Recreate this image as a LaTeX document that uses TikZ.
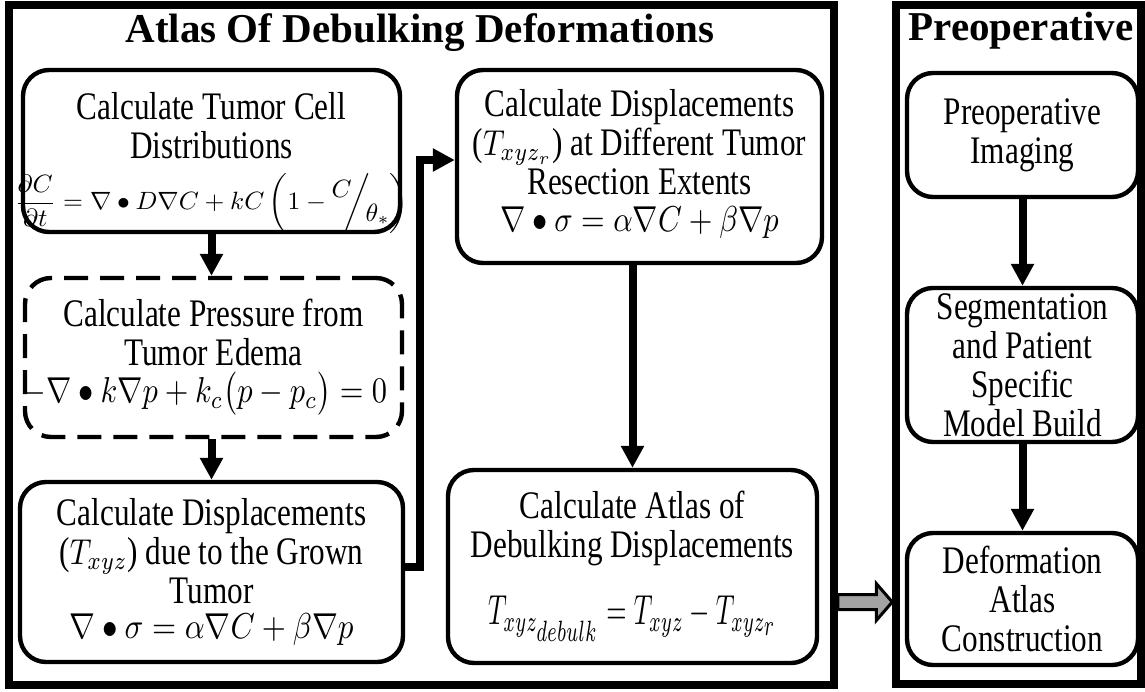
\documentclass[tikz,border=0pt]{standalone}
\usepackage{amsmath}
\usepackage{graphicx}
\usepackage{fontspec}
\setmainfont{Liberation Serif}[FakeStretch=0.8]
\newfontfamily\titlefont{Liberation Serif}
\usetikzlibrary{arrows.meta}
\newcommand\mth[2][1.5]{\scalebox{#1}[1.8]{\fontsize{10}{12}\selectfont$\displaystyle #2$}}
\newcommand\mthA[1]{\scalebox{1.28}[1.25]{\fontsize{10}{12}\selectfont$\displaystyle #1$}}
\newcommand\mthE[1]{\scalebox{1.3}[2.1]{\fontsize{10}{12}\selectfont$\displaystyle #1$}}
\tikzset{
  frame/.style={draw, line width=3.75pt, inner sep=0pt},
  ttl/.style={font=\titlefont\bfseries\fontsize{20.5}{22}\selectfont, anchor=base, inner sep=0pt},
  box/.style={draw, line width=2.2pt, rounded corners=13pt, inner sep=0pt, align=center,
    font=\fontsize{19.5}{19.5}\selectfont},
  boxtext/.style={inner sep=0pt, align=center, font=\fontsize{19.5}{19.5}\selectfont},
  dbox/.style={box, dash pattern=on 12pt off 6pt},
  conn/.style={line width=4pt, line join=miter, -{Triangle[length=11pt,width=11pt]}},
  fat/.style={draw, line width=1.5pt, fill=black!36, line join=miter}
}
\begin{document}
\begin{tikzpicture}[x=0.5pt,y=-0.5pt]
\useasboundingbox (0,0) rectangle (1145,691);
% frames
\node[frame, minimum width=412.5pt, minimum height=340pt] (atlas) at (421.5,345) {};
\node[frame, minimum width=122.5pt, minimum height=339.5pt] (prep) at (1018.5,344.5) {};
\node[ttl] (tatlas) at (420,42) {Atlas Of Debulking Deformations};
\node[ttl] (tprep) at (1021,40) {Preoperative};
% left column
\node[box, minimum width=188.5pt, minimum height=81pt] (b1) at (211.5,151) {};
\node[boxtext] (b1t) at (211.5,163)
 {Calculate Tumor Cell\\Distributions\\[6pt]
  \makebox[0pt]{\mthA{\frac{\partial C}{\partial t}=\nabla\bullet D\nabla C+kC\left(\vphantom{\frac{\partial C}{\partial t}}1-\raisebox{1.1ex}{$C$}\!\!\bigg/\!\raisebox{-1.0ex}{$\theta_*$}\right)}}};
\node[dbox, minimum width=188.5pt, minimum height=79.5pt] (b2) at (213.5,357.5)
 {Calculate Pressure from\\Tumor Edema\\[-1pt]
  \makebox[0pt]{\hspace*{-8.5pt}\mth[1.52]{-\nabla\bullet k\nabla p+k_c\bigl(p-p_c\bigr)=0}}\rule[-6pt]{0pt}{1pt}};
\node[box, minimum width=191.5pt, minimum height=90pt] (b3) at (211.5,572)
 {Calculate Displacements\\(\mth{T_{xyz}})\ due to the Grown\\Tumor\\[-2pt]
  \mth[1.55]{\nabla\bullet\sigma=\alpha\nabla C+\beta\nabla p}};
% middle column
\node[box, minimum width=182.5pt, minimum height=96.5pt] (b4) at (639.5,166.5)
 {Calculate Displacements\\(\mth{T_{xyz_r}}) at Different Tumor\\Resection Extents\\[-1pt]
  \mth[1.52]{\nabla\bullet\sigma=\alpha\nabla C+\beta\nabla p}\rule[-6pt]{0pt}{1pt}};
\node[box, minimum width=184.5pt, minimum height=96.5pt] (b5) at (632.5,566.5)
 {Calculate Atlas of\\Debulking Displacements\\[14pt]
  \mthE{T_{xyz_{\scriptstyle debulk}}=T_{xyz}-T_{xyz_{\scriptstyle r}}}};
% right column
\node[box, minimum width=115.5pt, minimum height=62pt] (r1) at (1022.5,135) {Preoperative\\Imaging};
\node[box, minimum width=115.5pt, minimum height=77pt] (r2) at (1022.5,365) {Segmentation\\and Patient\\Specific\\Model Build};
\node[box, minimum width=115.5pt, minimum height=66pt] (r3) at (1022.5,599) {Deformation\\Atlas\\Construction};
% connectors
\draw[conn] (b1.south) -- (b1.south |- b2.north);
\draw[conn] (b1.south |- b2.south) -- (b1.south |- b3.north);
\coordinate (c1) at (420,567);
\coordinate (c2) at (420,160);
\draw[conn] (b3.east |- c1) -- (c1) -- (c2) -- (b4.west |- c2);
\draw[conn] (b5.north |- b4.south) -- (b5.north);
\draw[conn] (r1.south) -- (r2.north);
\draw[conn] (r2.south) -- (r3.north);
% gray block arrow
\coordinate (gy) at (0,602);
\coordinate (gs) at (atlas.east |- gy);
\coordinate (ge) at (prep.west |- gy);
\draw[fat] ([yshift=3.75pt]gs) -- ([xshift=-8pt,yshift=3.75pt]ge) -- ([xshift=-8pt,yshift=9.25pt]ge)
  -- (ge) -- ([xshift=-8pt,yshift=-9.25pt]ge) -- ([xshift=-8pt,yshift=-3.75pt]ge)
  -- ([yshift=-3.75pt]gs) -- cycle;
\end{tikzpicture}
\end{document}
